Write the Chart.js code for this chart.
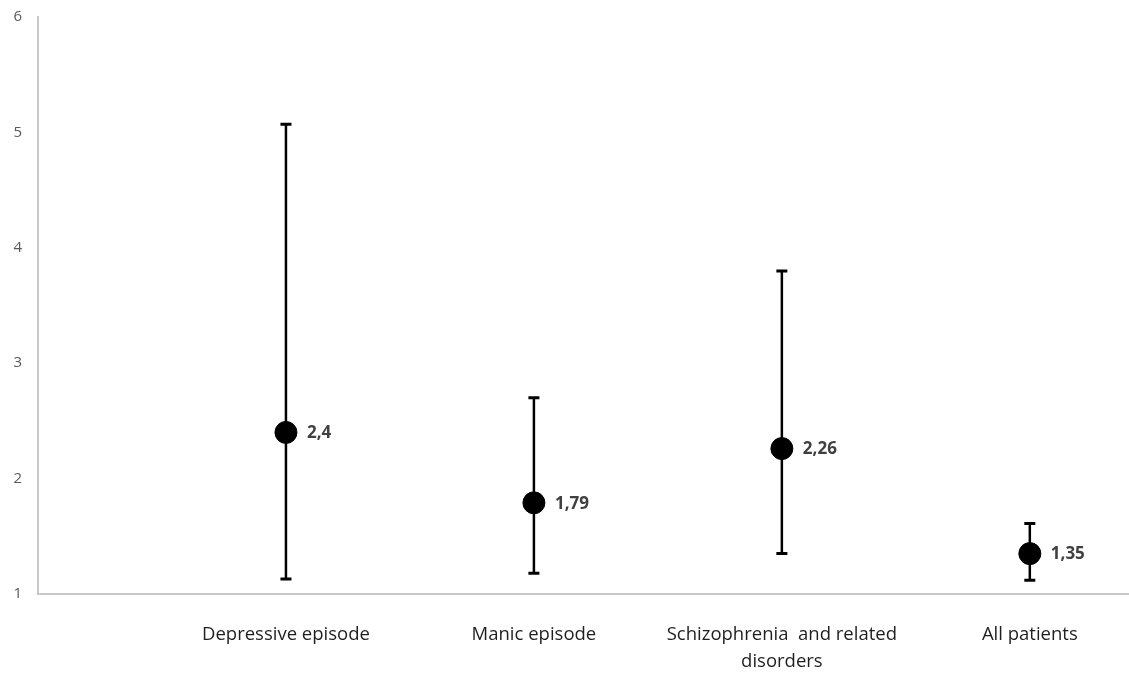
<!DOCTYPE html>
<html>
<head>
<meta charset="utf-8">
<script src="https://cdn.jsdelivr.net/npm/chart.js@4/dist/chart.umd.min.js"></script>
<style>
  html, body { margin: 0; padding: 0; background: #ffffff; }
  #wrap { width: 1129px; height: 675px; }
</style>
</head>
<body>
<div id="wrap"><canvas id="c" width="1129" height="675"></canvas></div>
<script>
// Diagnostic groups (multi-line labels as arrays)
const categories = [
  'Depressive episode',
  'Manic episode',
  ['Schizophrenia  and related', 'disorders'],
  'All patients'
];
// Point estimates and interval bounds per group
const means = [2.4, 1.79, 2.26, 1.35];
const lower = [1.13, 1.18, 1.35, 1.12];
const upper = [5.07, 2.70, 3.80, 1.61];
// Y-axis tick values
const yTicks = [1, 2, 3, 4, 5, 6];

const FONT = '"Open Sans", "Liberation Sans", sans-serif';

// Vertical whiskers with flat caps, drawn under the markers
const errorBars = {
  id: 'errorBars',
  beforeDatasetsDraw(chart) {
    const { ctx, scales: { x, y } } = chart;
    ctx.save();
    ctx.strokeStyle = '#000000';
    ctx.lineCap = 'butt';
    means.forEach((m, i) => {
      const px = x.getPixelForValue(i + 1);
      const top = y.getPixelForValue(upper[i]);
      const bot = y.getPixelForValue(lower[i]);
      ctx.lineWidth = 2.5;
      ctx.beginPath();
      ctx.moveTo(px, top);
      ctx.lineTo(px, bot);
      ctx.stroke();
      ctx.lineWidth = 3;
      ctx.beginPath();
      ctx.moveTo(px - 5.5, top);
      ctx.lineTo(px + 5.5, top);
      ctx.moveTo(px - 5.5, bot);
      ctx.lineTo(px + 5.5, bot);
      ctx.stroke();
    });
    ctx.restore();
  }
};

// Value labels to the right of each marker, decimal comma
const valueLabels = {
  id: 'valueLabels',
  afterDatasetsDraw(chart) {
    const { ctx } = chart;
    const meta = chart.getDatasetMeta(0);
    ctx.save();
    ctx.fillStyle = '#404040';
    ctx.font = 'bold 17px ' + FONT;
    ctx.textAlign = 'left';
    ctx.textBaseline = 'middle';
    meta.data.forEach((pt, i) => {
      ctx.fillText(String(means[i]).replace('.', ','), pt.x + 21, pt.y + 1);
    });
    ctx.restore();
  }
};

new Chart(document.getElementById('c'), {
  type: 'scatter',
  data: {
    datasets: [{
      data: means.map((v, i) => ({ x: i + 1, y: v })),
      backgroundColor: '#000000',
      borderColor: '#000000',
      pointRadius: 11,
      pointHoverRadius: 11,
      showLine: false
    }]
  },
  options: {
    responsive: false,
    animation: false,
    devicePixelRatio: 1,
    layout: { autoPadding: false, padding: { top: 17, right: 0, left: 0, bottom: 0 } },
    plugins: {
      legend: { display: false },
      tooltip: { enabled: false }
    },
    scales: {
      x: {
        type: 'linear',
        min: 0,
        max: 4.4,
        grid: { display: false, drawTicks: false },
        border: { display: true, color: '#c8c8c8', width: 2 },
        afterBuildTicks(scale) {
          scale.ticks = categories.map((c, i) => ({ value: i + 1 }));
        },
        afterFit(scale) {
          scale.height = 81;
          scale.paddingLeft = 0;
          scale.paddingRight = 0;
        },
        ticks: {
          autoSkip: false,
          maxRotation: 0,
          padding: 27,
          color: '#1f1f1f',
          font: { family: FONT, size: 18.5, lineHeight: 1.46 },
          callback: (v) => categories[v - 1]
        }
      },
      y: {
        type: 'linear',
        min: 1,
        max: 6,
        grid: { display: false, drawTicks: false },
        border: { display: true, color: '#c8c8c8', width: 2 },
        afterBuildTicks(scale) {
          scale.ticks = yTicks.map(v => ({ value: v }));
        },
        afterFit(scale) {
          scale.width = 38;
          scale.paddingTop = 0;
          scale.paddingBottom = 0;
        },
        ticks: {
          padding: 16,
          color: '#595959',
          font: { family: FONT, size: 15 }
        }
      }
    }
  },
  plugins: [errorBars, valueLabels]
});
</script>
</body>
</html>
